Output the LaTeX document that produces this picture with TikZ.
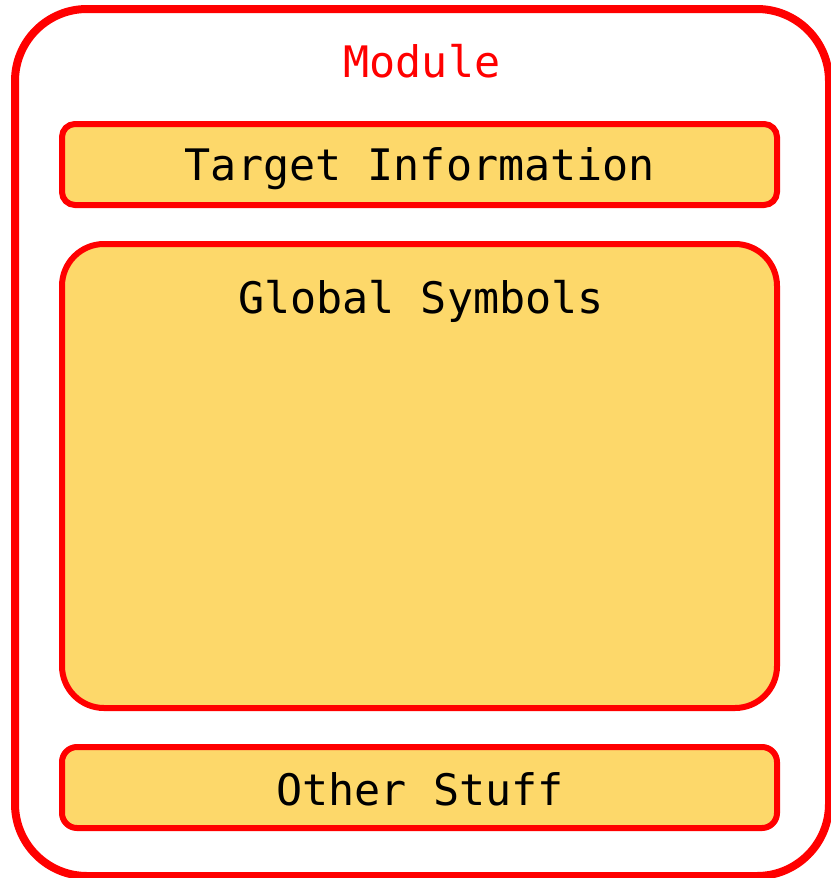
\documentclass[tikz,border=0pt]{standalone}
\usepackage{fontspec}
\newfontfamily\codefont{DejaVu Sans Mono}
\definecolor{boxred}{RGB}{255,0,0}
\definecolor{boxfill}{RGB}{253,216,106}
\begin{document}
\begin{tikzpicture}[x=1pt,y=-1pt,
  outerbox/.style={draw=boxred,line width=8pt,rounded corners=72pt,
    minimum width=814pt,minimum height=867pt,inner sep=0pt,outer sep=0pt},
  partbox/.style={draw=boxred,fill=boxfill,line width=6pt,
    minimum width=715pt,inner sep=0pt,outer sep=0pt},
  title/.style={font=\codefont\fontsize{43.4}{50}\selectfont,anchor=base,inner sep=0pt}]
  \useasboundingbox (0,0) rectangle (830,878);
  % module frame
  \node[outerbox] (module) at (422,442.5) {};
  \node[title,text=boxred] (modtitle) at (422,77) {Module};
  % sections
  \node[partbox,minimum height=81pt,rounded corners=13pt] (target) at (419.5,164.5) {};
  \node[title] (targettxt) at (420,180) {Target Information};
  \node[partbox,minimum height=464pt,rounded corners=42pt] (global) at (419.5,476) {};
  \node[title] (globaltxt) at (421,313) {Global Symbols};
  \node[partbox,minimum height=81pt,rounded corners=15pt] (other) at (419.5,787.5) {};
  \node[title] (othertxt) at (420,805) {Other Stuff};
\end{tikzpicture}
\end{document}
